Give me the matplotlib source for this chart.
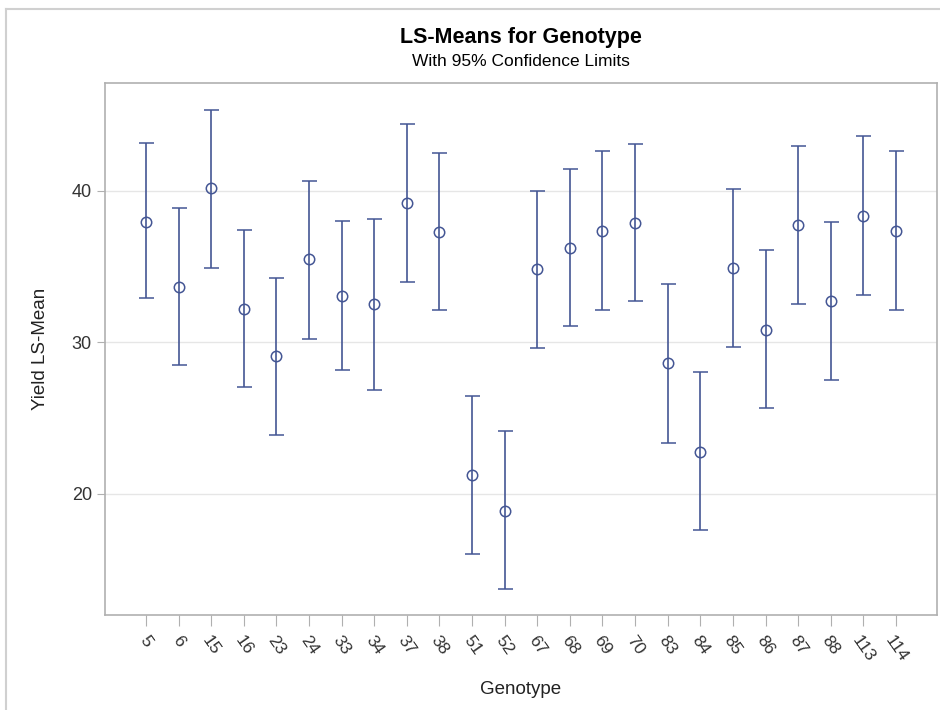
import matplotlib
matplotlib.use('Agg')
import matplotlib.pyplot as plt
from matplotlib.lines import Line2D

plt.rcParams['font.family'] = ['Liberation Sans', 'DejaVu Sans']

# Genotype LS-means with 95% confidence limits
genotypes = ['5', '6', '15', '16', '23', '24', '33', '34', '37', '38', '51', '52',
             '67', '68', '69', '70', '83', '84', '85', '86', '87', '88', '113', '114']
lsmean = [37.95, 33.66, 40.2, 32.2, 29.1, 35.5, 33.07, 32.54, 39.2, 37.29, 21.25, 18.88,
          34.85, 36.24, 37.36, 37.89, 28.65, 22.77, 34.92, 30.83, 37.76, 32.74, 38.35, 37.36]
upper = [43.17, 38.88, 45.35, 37.43, 34.26, 40.66, 38.02, 38.15, 44.42, 42.5, 26.47, 24.16,
         40.0, 41.45, 42.64, 43.1, 33.86, 28.05, 40.13, 36.1, 42.97, 37.95, 43.63, 42.64]
lower = [32.94, 28.51, 34.92, 27.06, 23.9, 30.23, 28.18, 26.86, 33.99, 32.15, 16.04, 13.73,
         29.64, 31.09, 32.15, 32.74, 23.37, 17.62, 29.7, 25.68, 32.54, 27.52, 33.14, 32.15]

blue = '#445694'
x = list(range(len(genotypes)))
err_lo = [m - l for m, l in zip(lsmean, lower)]
err_hi = [u - m for m, u in zip(lsmean, upper)]

fig = plt.figure(figsize=(9.4, 7.1), dpi=100)
ax = fig.add_axes([0.1117, 0.1338, 0.8851, 0.7493])

ax.errorbar(x, lsmean, yerr=[err_lo, err_hi], fmt='o', color=blue, ecolor=blue,
            elinewidth=1.2, capsize=5.4, capthick=1.2, markersize=7.5,
            markerfacecolor='none', markeredgewidth=1.1, zorder=3)

ax.set_xlim(-1.26, len(genotypes) - 1 + 1.26)
ax.set_ylim(12.0, 47.13)
ax.set_yticks([20, 30, 40])
ax.set_xticks(x)
ax.set_xticklabels(genotypes, rotation=-55, fontsize=12.5, color='#333333')
ax.tick_params(axis='y', labelsize=13, labelcolor='#333333', length=6, color='#b0b0b0')
ax.tick_params(axis='x', length=8, color='#b0b0b0', pad=5)
ax.grid(axis='y', color='#e6e6e6', linewidth=1)
ax.set_axisbelow(True)
for s in ax.spines.values():
    s.set_color('#b0b0b0')
    s.set_linewidth(1.2)

ax.set_xlabel('Genotype', fontsize=13.5, color='#222222', labelpad=12)
ax.set_ylabel('Yield LS-Mean', fontsize=13.5, color='#222222', labelpad=16)

fig.text(0.554, 0.947, 'LS-Means for Genotype', ha='center', va='center',
         fontsize=15.5, fontweight='bold')
fig.text(0.554, 0.914, 'With 95% Confidence Limits', ha='center', va='center',
         fontsize=12.5)

# outer frame of the output panel
fig.add_artist(Line2D([6 / 940, 1.0], [1 - 9 / 710, 1 - 9 / 710], color='#d0d0d0', linewidth=1.5))
fig.add_artist(Line2D([6 / 940, 6 / 940], [0.0, 1 - 9 / 710], color='#d0d0d0', linewidth=1.5))

fig.savefig('out.png', dpi=100)
